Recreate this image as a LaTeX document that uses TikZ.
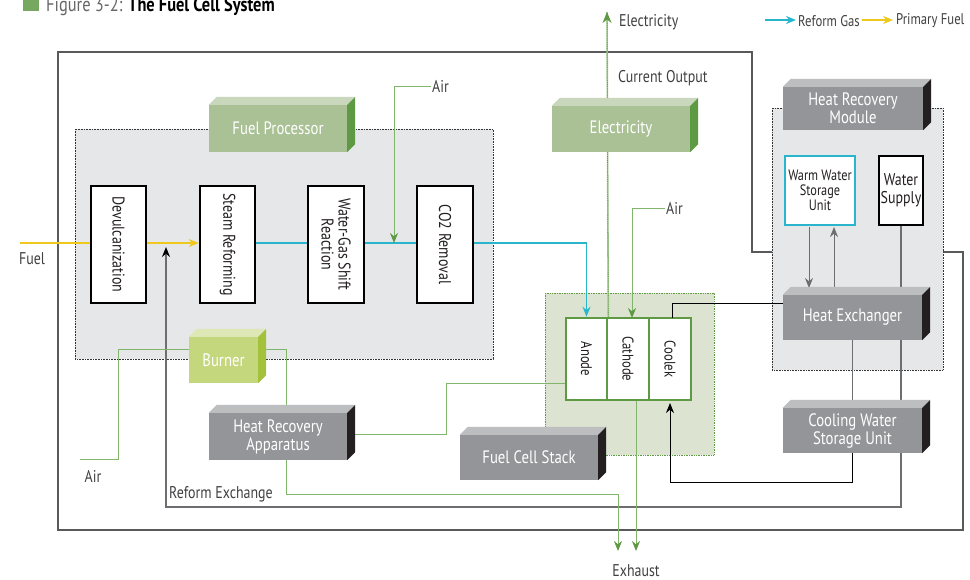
\documentclass[tikz,border=0pt]{standalone}
\usepackage{fontspec}
\setmainfont{PT Sans}[FakeStretch=0.82]
\usetikzlibrary{arrows.meta}
\definecolor{fpfront}{HTML}{A9C195}
\definecolor{fptop}{HTML}{C9D7BD}
\definecolor{fpside}{HTML}{5E9A43}
\definecolor{gyfront}{HTML}{939598}
\definecolor{gytop}{HTML}{BCBEC0}
\definecolor{gyside}{HTML}{231F20}
\definecolor{bnfront}{HTML}{C5D77C}
\definecolor{bntop}{HTML}{DEE8B6}
\definecolor{bnside}{HTML}{A3C13B}
\definecolor{regfill}{HTML}{E6E7E8}
\definecolor{fcfill}{HTML}{DCE3D0}
\definecolor{stackgreen}{HTML}{5E9A43}
\definecolor{glinec}{HTML}{80B56B}
\definecolor{cyanc}{HTML}{29B6CC}
\definecolor{yellowc}{HTML}{EFC81C}
\definecolor{darkline}{HTML}{6D6E71}
\definecolor{framec}{HTML}{58595B}
\definecolor{txt}{HTML}{414042}
\newcommand\lblfont{\fontsize{17}{18}\selectfont}
\newcommand\blkfont{\fontsize{18}{18}\selectfont}
\newcommand\blockfaces[3]{%
  \fill[#2] (#1.north west) -- ([shift={(8,-8)}]#1.north west) -- ([shift={(8,-8)}]#1.north east) -- (#1.north east) -- cycle;
  \fill[#3] (#1.north east) -- ([shift={(8,-8)}]#1.north east) -- ([shift={(8,-8)}]#1.south east) -- (#1.south east) -- cycle;}
\tikzset{
  blk/.style={rectangle, inner sep=0pt, text=white, font=\blkfont, align=center},
  greenblk/.style={blk, fill=fpfront},
  grayblk/.style={blk, fill=gyfront},
  burnerblk/.style={blk, fill=bnfront},
  pbox/.style={rectangle, draw=black, line width=2.6pt, fill=white, inner sep=0pt, minimum width=55, minimum height=117},
  sbox/.style={rectangle, draw=stackgreen, line width=2.6pt, fill=white, inner sep=0pt, minimum width=42, minimum height=82},
  rtext/.style={rotate=-90, text=gyside, font=\fontsize{17}{17}\selectfont, align=center},
  stext/.style={rotate=-90, text=gyside, font=\fontsize{15.5}{16}\selectfont, align=center},
  lbl/.style={text=txt, font=\lblfont, inner sep=1pt},
  region/.style={fill=regfill, draw=black!80, densely dotted, line width=0.6pt},
  gline/.style={draw=glinec, line width=1pt},
  garrow/.style={gline, -{Stealth[length=10pt,width=8pt,color=stackgreen]}},
  cline/.style={draw=cyanc, line width=1.1pt},
  carrow/.style={cline, -{Stealth[length=10pt,width=8pt]}},
  yline/.style={draw=yellowc, line width=1.1pt},
  yarrow/.style={yline, -{Stealth[length=10pt,width=8pt]}},
  kline/.style={draw=black, line width=0.9pt},
  karrow/.style={kline, -{Stealth[length=10pt,width=8pt]}},
  dline/.style={draw=darkline, line width=1.2pt},
  darrow/.style={dline, -{Stealth[length=10pt,width=8pt,color=black]}},
}
\begin{document}
\begin{tikzpicture}[x=1pt,y=-1pt]
\useasboundingbox (0,0) rectangle (970,579);
\fill[white] (0,0) rectangle (970,579);

% title
\fill[fpside!85] (23,-3) rectangle (39,11);
\node[anchor=base west, inner sep=0pt, font=\fontsize{20}{22}\selectfont] (title) at (46,11) {\textcolor{txt!80}{Figure 3-2:} \textbf{The Fuel Cell System}};

% legend
\coordinate (lc1) at (765,20); \coordinate (lc2) at (796,20);
\draw[carrow] (lc1) -- (lc2);
\node[lbl, anchor=west, font=\fontsize{15.5}{16}\selectfont] (lgc) at (797,21) {Reform Gas};
\coordinate (ly1) at (862,20); \coordinate (ly2) at (893,20);
\draw[yarrow] (ly1) -- (ly2);
\node[lbl, anchor=west, font=\fontsize{15.5}{16}\selectfont] (lgy) at (895,21) {Primary Fuel};

% outer frame
\draw[framec, line width=1.4pt] (58,52) -- (752,52) -- (752,252) -- (963,252) -- (963,530) -- (58,530) -- cycle;

% regions
\draw[region] (75,129) rectangle (493,359);
\draw[region] (772,108) rectangle (943,370);
\draw[fill=fcfill, draw=stackgreen, densely dotted, line width=0.7pt] (545,293) rectangle (714,455);

% process boxes
\node[pbox] (dev) at (118.5,244.5) {};
\node[rtext] at (dev) {Devulcanization};
\node[pbox] (sr) at (227.5,244.5) {};
\node[rtext] at (sr) {Steam Reforming};
\node[pbox, minimum width=56] (wgs) at (336,244.5) {};
\node[rtext] at (wgs) {Water-Gas Shift\\Reaction};
\node[pbox, minimum width=56] (co2) at (445,244.5) {};
\node[rtext] at (co2) {CO2 Removal};

% stack boxes
\node[sbox, minimum width=41] (anode) at (586.5,359) {};
\node[stext] at (anode) {Anode};
\node[sbox] (cathode) at (628,359) {};
\node[stext] at (cathode) {Cathode};
\node[sbox] (coolek) at (670,359) {};
\node[stext] at (coolek) {Coolek};

% heat recovery module boxes
\node[rectangle, draw=cyanc, line width=2.6pt, fill=white, minimum width=70, minimum height=69, inner sep=0pt, text=gyside, align=center, font=\fontsize{15}{15}\selectfont] (wwsu) at (820,190.5) {Warm Water\\Storage\\Unit};
\node[rectangle, draw=black, line width=2.6pt, fill=white, minimum width=44, minimum height=69, inner sep=0pt, text=gyside, align=center, font=\fontsize{17}{18}\selectfont] (wsup) at (901,190.5) {Water\\Supply};

% ---- connectors (under blocks) ----
\coordinate (fuelin) at (20,243);
\draw[yline] (fuelin) -- (fuelin -| dev.west);
\draw[yarrow] (dev.east |- fuelin) -- (sr.west |- fuelin);
\node[lbl] (fuellbl) at (32,259) {Fuel};
\draw[cline] (sr.east |- fuelin) -- (wgs.west |- fuelin);
\draw[cline] (wgs.east |- fuelin) -- (co2.west |- fuelin);
\draw[carrow] (co2.east |- fuelin) -| (anode.north);

% air into shift line
\node[lbl, anchor=west] (airA) at (431,86) {Air};
\coordinate (airjoin) at (394,243);
\draw[garrow] (airA.west) -| (airjoin);
% air into cathode
\node[lbl, anchor=west] (airB) at (665,208) {Air};
\coordinate (cathin) at (632,318);
\draw[garrow] (airB.west) -| (cathin);

% electricity output
\coordinate (elecout) at (607,12);
\draw[draw=glinec!70, line width=1.6pt] (anode.north east) -- (elecout);
\draw[draw=stackgreen, line width=0.9pt, densely dotted, -{Stealth[length=11pt,width=9pt,color=stackgreen]}] (anode.north east) -- (elecout);
\node[lbl, anchor=west] (eleclbl) at (618,22) {Electricity};
\node[lbl, anchor=west] (curlbl) at (617,78) {Current Output};

% reform exchange loop
\coordinate (rxa) at (166,507);
\coordinate (rxb) at (901,507);
\coordinate (rxtip) at (166,247);
\draw[darrow] (wsup.south) -- (rxb) -- (rxa) -- (rxtip);
\node[lbl, anchor=west] (rxlbl) at (168,494) {Reform Exchange};

% heat exchanger / cooling loop
\draw[dline] (852.5,340) -- (852.5,408);
\coordinate (cl) at (670,482);
\coordinate (clin) at (670,403);
\draw[kline] (852.5,453) |- (cl);
\draw[karrow] (cl) -- (clin);
\coordinate (cltop) at (672,318);
\coordinate (clturn) at (672,303);
\draw[kline] (cltop) -- (clturn) -- (783,303);

% WWSU <-> heat exchanger
\coordinate (wa) at (809,227);
\coordinate (wb) at (834,227);
\coordinate (hxtop) at (820,288);
\draw[karrow, draw=darkline] (wa) -- (wa |- hxtop);
\draw[karrow, draw=darkline] (wb |- hxtop) -- (wb);

% burner air and exhaust
\node[lbl] (airC) at (93,476) {Air};
\coordinate (airCin) at (80,459);
\coordinate (airCturn) at (118,459);
\draw[gline] (airCin) -- (airCturn) |- (190,349);
\coordinate (bnout) at (258,349);
\coordinate (hrain) at (286,413);
\draw[gline] (bnout) -| (hrain);
\coordinate (hraout) at (286,460);
\coordinate (exturn) at (618,494);
\coordinate (ex1) at (618,551);
\draw[garrow] (hraout) |- (exturn) -- (ex1);
\coordinate (ex2) at (636,551);
\draw[garrow] (ex2 |- cathode.south) -- (ex2);
\node[lbl, anchor=base] (exlbl) at (636,576) {Exhaust};
\coordinate (hraturn) at (446,383);
\draw[gline] (355,434) -| (hraturn) -- (hraturn -| anode.west);

% ---- 3D blocks ----
\node[greenblk, minimum width=138, minimum height=47] (fp) at (278,128.5) {Fuel Processor};
\blockfaces{fp}{fptop}{fpside}
\node[greenblk, minimum width=138, minimum height=46] (elec) at (621,129) {Electricity};
\blockfaces{elec}{fptop}{fpside}
\node[grayblk, minimum width=140, minimum height=43] (hrm) at (853,108.5) {Heat Recovery\\Module};
\blockfaces{hrm}{gytop}{gyside}
\node[grayblk, minimum width=139, minimum height=45] (hx) at (852.5,317.5) {Heat Exchanger};
\blockfaces{hx}{gytop}{gyside}
\node[grayblk, minimum width=139, minimum height=45] (cwsu) at (852.5,430.5) {Cooling Water\\Storage Unit};
\blockfaces{cwsu}{gytop}{gyside}
\node[grayblk, minimum width=138, minimum height=45] (fcs) at (529,457.5) {Fuel Cell Stack};
\blockfaces{fcs}{gytop}{gyside}
\node[burnerblk, minimum width=69, minimum height=46] (burner) at (223.5,360) {Burner};
\blockfaces{burner}{bntop}{bnside}
\node[grayblk, minimum width=138, minimum height=47] (hra) at (278,436.5) {Heat Recovery\\Apparatus};
\blockfaces{hra}{gytop}{gyside}
\end{tikzpicture}
\end{document}
